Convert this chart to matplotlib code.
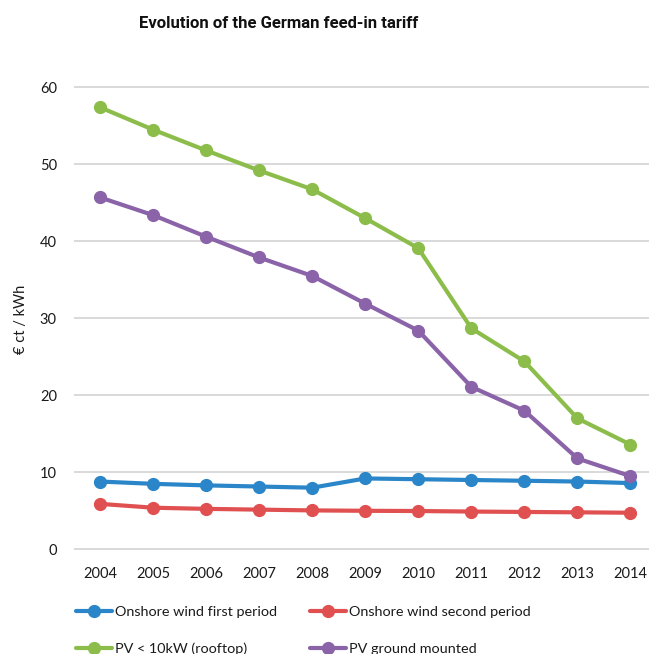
import matplotlib
matplotlib.use("Agg")
import matplotlib.pyplot as plt

years = ["2004", "2005", "2006", "2007", "2008", "2009", "2010", "2011", "2012", "2013", "2014"]
wind_first = [8.8, 8.5, 8.3, 8.15, 8.0, 9.2, 9.1, 9.0, 8.9, 8.8, 8.6]
wind_second = [5.9, 5.4, 5.25, 5.15, 5.05, 5.0, 4.97, 4.9, 4.85, 4.8, 4.75]
pv_rooftop = [57.4, 54.5, 51.8, 49.2, 46.75, 43.0, 39.1, 28.7, 24.4, 17.0, 13.6]
pv_ground = [45.7, 43.4, 40.6, 37.9, 35.5, 31.9, 28.4, 21.1, 18.0, 11.8, 9.5]

labels = ["Onshore wind first period", "Onshore wind second period",
          "PV < 10kW (rooftop)", "PV ground mounted"]
colors = ["#2a86c8", "#e05050", "#8cbd4b", "#8a63a8"]
yticks = [0, 10, 20, 30, 40, 50, 60]

W, H = 649, 654
fig = plt.figure(figsize=(W / 100, H / 100), dpi=100)
left, right = 73.5, 657.0
bottom_px, top_px = 551.6, 85.0
ax = fig.add_axes([left / W, (H - bottom_px) / H, (right - left) / W, (bottom_px - top_px) / H])

x = list(range(len(years)))
series = [wind_first, wind_second, pv_rooftop, pv_ground]
handles = []
for vals, lab, col in zip(series, labels, colors):
    h, = ax.plot(x, vals, color=col, lw=3.0, marker="o", ms=8.5, label=lab,
                 solid_capstyle="round", zorder=3)
    handles.append(h)

ax.set_xlim(-0.5, len(years) - 0.5)
ax.set_ylim(-0.3, 60.3)
ax.set_yticks(yticks)
ax.set_xticks(x)
ax.set_xticklabels(years)
for s in ax.spines.values():
    s.set_visible(False)
ax.grid(axis="y", color="#d9d9d9", lw=1.4, zorder=0)
ax.tick_params(length=0, labelsize=10.5, pad=11)
ax.tick_params(axis="y", pad=12)
for t in ax.get_xticklabels() + ax.get_yticklabels():
    t.set_fontfamily("Lato")
    t.set_color("#1a1a1a")

fig.text(21 / W, 1 - 319 / H, "€ ct / kWh", rotation=90, ha="center", va="center",
         fontsize=10.5, family="Lato", color="#1a1a1a")

fig.text(279 / W, 1 - 23 / H, "Evolution of the German feed-in tariff", ha="center",
         va="center", fontsize=12, fontweight="bold",
         family="Roboto", color="#111111")

order = [0, 2, 1, 3]
leg = fig.legend([handles[i] for i in order], [labels[i] for i in order],
                 ncol=2, loc="upper left", bbox_to_anchor=(76 / W, 1 - 606 / H),
                 frameon=False, prop={"family": "Lato", "size": 10.4},
                 handlelength=2.5, handletextpad=0.2, columnspacing=2.3,
                 labelspacing=1.7, borderaxespad=0, borderpad=0)
for t in leg.get_texts():
    t.set_color("#1a1a1a")

fig.savefig("out.png", dpi=100)
